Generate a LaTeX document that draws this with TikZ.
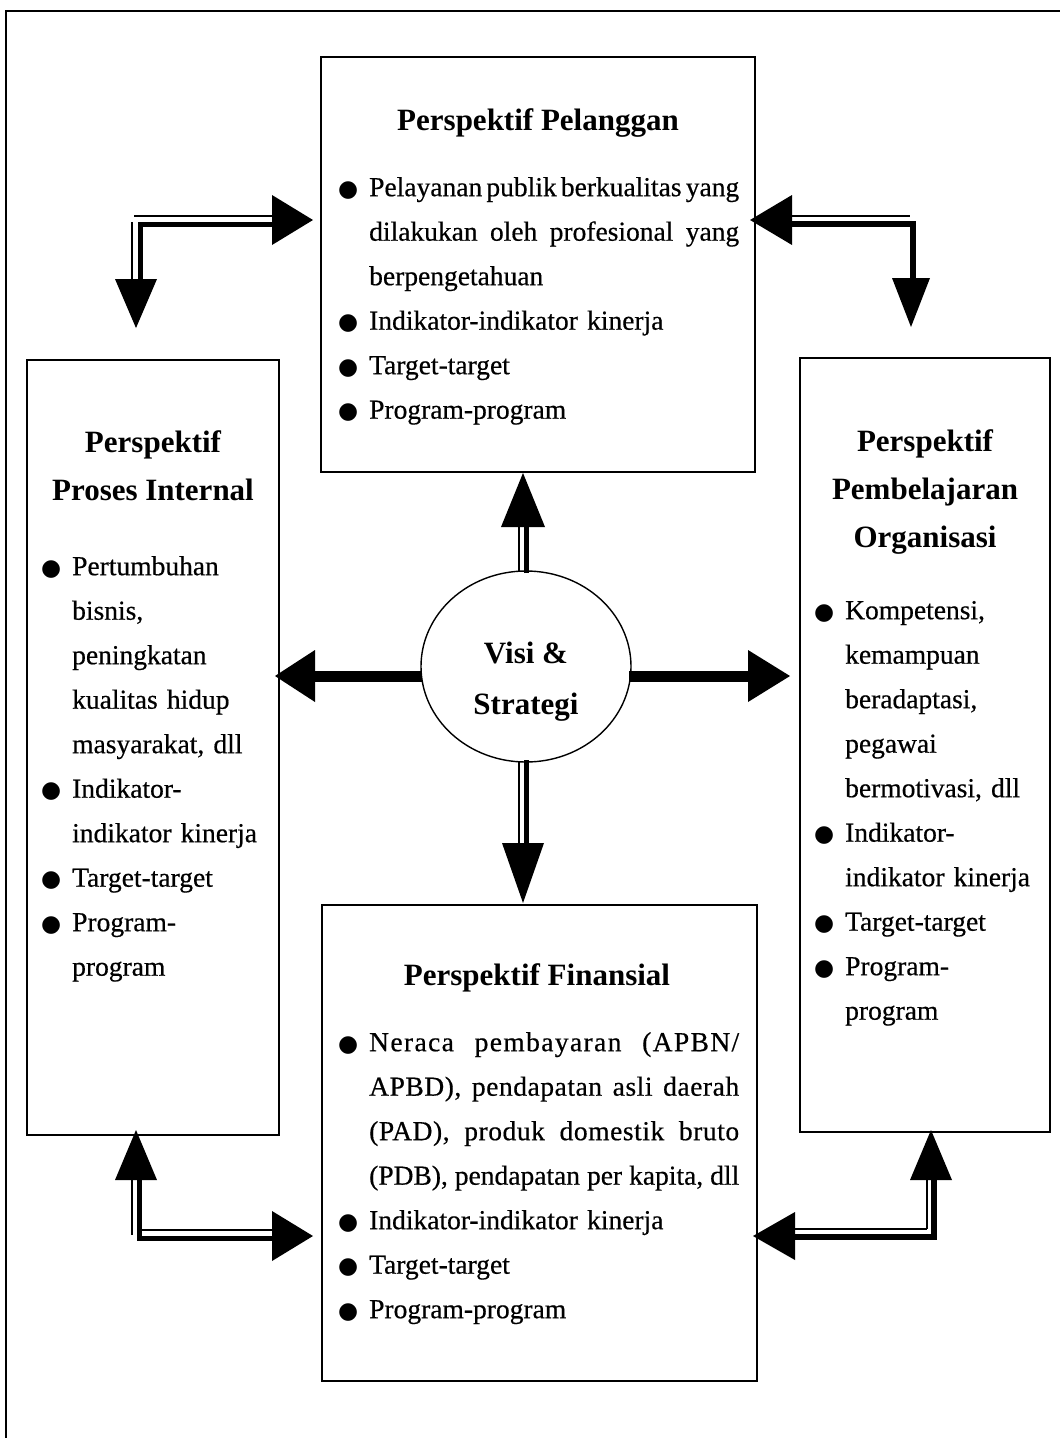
\documentclass[tikz,border=0pt]{standalone}
\usepackage{fontspec}
\setmainfont{Liberation Serif}
\newfontfamily\bodyfont{Liberation Serif}[FakeBold=0.5]
\newfontfamily\symfont{DejaVu Sans}
\usetikzlibrary{shapes.geometric}

% bullet column and justified item lines
\newlength\bulw \setlength\bulw{31pt}
\newcommand\bul{\makebox[\bulw][l]{\symfont\fontsize{23}{23}\selectfont ●}}
\newcommand\ind{\hspace*{\bulw}}
\newcommand\jl[1]{\makebox[370pt][s]{\frenchspacing\xspaceskip=0pt
  \spaceskip=.25em plus 1em minus .1em\relax #1}}

\begin{document}
\begin{tikzpicture}[x=1pt,y=-1pt,
  box/.style={draw, line width=1.2pt, inner sep=0pt},
  body/.style={anchor=north west, inner sep=0pt, align=left,
               font=\bodyfont\fontsize{27.5}{44.5}\selectfont},
  title/.style={inner sep=0pt, align=center,
               font=\fontsize{31}{48}\selectfont\bfseries},
  thinrail/.style={line width=1.8pt},
  thickrail/.style={line width=5pt, line join=miter},
  widerail/.style={line width=6pt, line join=miter},
  bar/.style={line width=11pt},
  head/.style={fill=black}]

\useasboundingbox (0,0) rectangle (1060,1438);

% outer frame (top and left edges)
\draw[line width=1.3pt] (6,1438) -- (6,11) -- (1060,11);

% the four perspective boxes and the centre
\node[box, minimum width=434pt, minimum height=415pt] (pel) at (538,264.5) {};
\node[box, minimum width=252pt, minimum height=775pt] (pro) at (153,747.5) {};
\node[box, minimum width=250pt, minimum height=774pt] (org) at (925,745) {};
\node[box, minimum width=435pt, minimum height=476pt] (fin) at (539.5,1143) {};
\node[ellipse, draw, line width=1.4pt, minimum width=210pt, minimum height=191pt,
      inner sep=0pt, align=center, font=\fontsize{31}{51}\selectfont\bfseries]
      (vs) at (526,666.5) {\rule{0pt}{51pt}Visi \&\\Strategi};

% titles
\node[title, anchor=base] (pelT) at (538,130) {Perspektif Pelanggan};
\node[title, anchor=north] (proT) at (153,418.4) {\strut Perspektif\\Proses Internal};
\node[title, anchor=north] (orgT) at (925,417.4) {\strut Perspektif\\Pembelajaran\\Organisasi};
\node[title, anchor=base] (finT) at (537,985) {Perspektif Finansial};

% item lists
\node[body, text width=405pt] (pelL) at (338,164.85) {%
\strut\bul\jl{Pelayanan publik berkualitas yang}\\
\ind\jl{dilakukan oleh profesional yang}\\
\ind berpengetahuan\\
\bul Indikator-indikator kinerja\\
\bul Target-target\\
\bul Program-program};

\node[body, text width=235pt] (proL) at (41,543.85) {%
\strut\bul Pertumbuhan\\
\ind bisnis,\\
\ind peningkatan\\
\ind kualitas hidup\\
\ind masyarakat, dll\\
\bul Indikator-\\
\ind indikator kinerja\\
\bul Target-target\\
\bul Program-\\
\ind program};

\node[body, text width=235pt] (orgL) at (814,587.85) {%
\strut\bul Kompetensi,\\
\ind kemampuan\\
\ind beradaptasi,\\
\ind pegawai\\
\ind bermotivasi, dll\\
\bul Indikator-\\
\ind indikator kinerja\\
\bul Target-target\\
\bul Program-\\
\ind program};

\node[body, text width=405pt] (finL) at (338,1019.85) {%
\strut\bul\jl{\addfontfeature{LetterSpace=5}Neraca pembayaran (APBN/}\\
\ind\jl{\addfontfeature{LetterSpace=2}APBD), pendapatan asli daerah}\\
\ind\jl{\addfontfeature{LetterSpace=2}(PAD), produk domestik bruto}\\
\ind\jl{(PDB), pendapatan per kapita, dll}\\
\bul Indikator-indikator kinerja\\
\bul Target-target\\
\bul Program-program};

% centre arrows
\draw[thinrail] (519,571) -- (519,527);
\draw[thickrail] (526.5,573) -- (526.5,527);
\fill[head] (523,473) -- (501,527) -- (545,527) -- cycle;

\draw[thinrail] (519,762) -- (519,843);
\draw[thickrail] (526.5,760) -- (526.5,843);
\fill[head] (523,903) -- (502,843) -- (544,843) -- cycle;

\draw[bar] (422,676) -- (313,676);
\fill[head] (275,676) -- (315,650) -- (315,702) -- cycle;

\draw[bar] (629,676) -- (748,676);
\fill[head] (790,676) -- (748,650) -- (748,702) -- cycle;

% corner arrows: customer <-> internal process
\draw[thinrail] (134,216) -- (272,216);
\draw[thinrail] (132,222) -- (132,279);
\draw[thickrail] (140,279) -- (140,224) -- (272,224);
\fill[head] (313,220) -- (272,195) -- (272,245) -- cycle;
\fill[head] (136,328) -- (115,279) -- (157,279) -- cycle;

% customer <-> learning
\draw[thinrail] (792,216) -- (910,216);
\draw[widerail] (792,224) -- (913,224) -- (913,278);
\fill[head] (750,220) -- (792,195) -- (792,245) -- cycle;
\fill[head] (911,327) -- (892,278) -- (930,278) -- cycle;

% internal process <-> financial
\draw[thinrail] (132,1180) -- (132,1235);
\draw[thinrail] (142,1230) -- (272,1230);
\draw[thickrail] (139.5,1180) -- (139.5,1238) -- (272,1238);
\fill[head] (136,1130) -- (115,1180) -- (157,1180) -- cycle;
\fill[head] (313,1236) -- (272,1211) -- (272,1261) -- cycle;

% learning <-> financial
\draw[thinrail] (795,1229) -- (927,1229);
\draw[thinrail] (927,1180) -- (927,1229);
\draw[widerail] (795,1237) -- (933.5,1237) -- (933.5,1180);
\fill[head] (753,1236) -- (795,1212) -- (795,1260) -- cycle;
\fill[head] (931,1130) -- (910,1180) -- (952,1180) -- cycle;

\end{tikzpicture}
\end{document}
